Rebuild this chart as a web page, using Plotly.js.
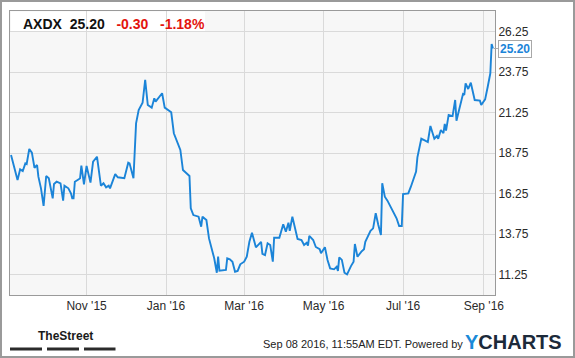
<!DOCTYPE html>
<html>
<head>
<meta charset="utf-8">
<script src="https://cdn.plot.ly/plotly-3.0.1.min.js"></script>
<style>
  html, body { margin: 0; padding: 0; background: #fff; }
  #wrap { position: relative; width: 575px; height: 358px; }
  #chart { width: 575px; height: 358px; }
  #frame { position: absolute; left: 0; top: 0; width: 575px; height: 358px; box-sizing: border-box; border: 2px solid #9a9a9a; pointer-events: none; }
</style>
</head>
<body>
<div id="wrap"><div id="chart"></div><div id="frame"></div></div>
<script>
const ticker = 'AXDX';
const lastPrice = '25.20';
const change = '-0.30';
const changePct = '-1.18%';
const stamp = 'Sep 08 2016, 11:55AM EDT. Powered by';

const dates = [
'2015-09-04','2015-09-09','2015-09-11','2015-09-13','2015-09-15','2015-09-16','2015-09-18','2015-09-20','2015-09-22','2015-09-24',
'2015-09-25','2015-09-27','2015-09-29','2015-10-01','2015-10-03','2015-10-04','2015-10-06','2015-10-07','2015-10-09','2015-10-12',
'2015-10-14','2015-10-15','2015-10-18','2015-10-20','2015-10-21','2015-10-22','2015-10-23','2015-10-26','2015-10-27','2015-10-28',
'2015-10-30','2015-11-01','2015-11-04','2015-11-06','2015-11-09','2015-11-12','2015-11-14','2015-11-16','2015-11-18','2015-11-19',
'2015-11-21','2015-11-23','2015-11-25','2015-11-30','2015-12-03','2015-12-04','2015-12-07','2015-12-09','2015-12-11','2015-12-14',
'2015-12-16','2015-12-18','2015-12-21','2015-12-23','2015-12-24','2015-12-29','2015-12-31','2016-01-05','2016-01-07','2016-01-09',
'2016-01-12','2016-01-14','2016-01-19','2016-01-20','2016-01-22','2016-01-26','2016-01-28','2016-01-29','2016-02-01','2016-02-03',
'2016-02-06','2016-02-07','2016-02-09','2016-02-10','2016-02-11','2016-02-16','2016-02-17','2016-02-19','2016-02-21','2016-02-23',
'2016-02-25','2016-02-27','2016-03-01','2016-03-03','2016-03-05','2016-03-07','2016-03-10','2016-03-14','2016-03-15','2016-03-17',
'2016-03-19','2016-03-21','2016-03-23','2016-03-24','2016-03-28','2016-03-30','2016-03-31','2016-04-02','2016-04-04','2016-04-05',
'2016-04-07','2016-04-11','2016-04-14','2016-04-16','2016-04-18','2016-04-19','2016-04-20','2016-04-23','2016-04-25','2016-04-28',
'2016-04-29','2016-05-02','2016-05-04','2016-05-06','2016-05-09','2016-05-11','2016-05-12','2016-05-13','2016-05-15','2016-05-17',
'2016-05-19','2016-05-22','2016-05-24','2016-05-25','2016-05-27','2016-05-30','2016-06-01','2016-06-02','2016-06-04','2016-06-06',
'2016-06-08','2016-06-10','2016-06-12','2016-06-14','2016-06-15','2016-06-17','2016-06-19','2016-06-22','2016-06-23','2016-06-26',
'2016-06-28','2016-06-30','2016-07-01','2016-07-05','2016-07-07','2016-07-09','2016-07-11','2016-07-12','2016-07-15','2016-07-18',
'2016-07-20','2016-07-22','2016-07-25','2016-07-27','2016-07-28','2016-07-30','2016-08-01','2016-08-02','2016-08-03','2016-08-05',
'2016-08-08','2016-08-10','2016-08-11','2016-08-13','2016-08-16','2016-08-17','2016-08-18','2016-08-20','2016-08-22','2016-08-25',
'2016-08-29','2016-08-30','2016-09-02','2016-09-04','2016-09-06','2016-09-07','2016-09-08'
];

const prices = [
18.63,17.08,17.74,17.64,18.11,18.07,19.00,18.77,17.84,18.01,
17.29,16.57,15.48,17.33,17.19,16.84,15.95,16.84,16.98,16.88,
15.81,16.73,16.57,16.26,15.95,15.95,16.98,17.13,17.19,17.97,
16.82,17.95,16.92,18.21,18.52,16.73,16.88,16.63,16.73,16.57,
16.98,17.45,17.25,17.19,18.15,18.11,17.19,20.58,21.40,21.85,
23.26,21.71,21.55,22.13,21.92,22.44,21.55,21.26,19.97,19.55,
18.94,17.70,17.33,15.34,14.92,14.82,14.20,14.82,14.61,13.48,
12.56,12.25,11.36,12.35,11.48,11.53,12.25,12.19,12.04,11.42,
11.47,11.88,12.04,12.35,13.27,13.83,12.93,13.27,12.52,12.45,
13.18,13.07,12.04,13.52,13.52,14.10,14.35,13.89,14.45,13.95,
14.82,13.44,13.38,13.07,13.21,13.03,13.63,13.38,12.95,12.81,
12.56,12.93,12.15,11.63,11.57,11.73,11.47,12.31,12.15,11.36,
11.26,11.77,12.04,13.13,12.35,12.66,12.81,13.27,13.58,13.95,
14.10,15.03,14.31,13.69,16.88,16.05,15.81,15.34,15.23,14.72,
14.24,14.24,16.22,16.26,16.67,17.08,17.60,18.48,19.63,19.51,
19.43,20.42,19.63,19.80,19.63,20.17,19.97,20.54,20.13,21.10,
21.03,22.02,20.74,21.40,22.39,22.33,23.05,22.70,23.09,22.02,
21.98,21.71,22.06,22.84,23.67,25.48,25.20
];

const yTickVals = [11.25, 13.75, 16.25, 18.75, 21.25, 23.75, 26.25];
const yTickText = ['11.25', '13.75', '16.25', '18.75', '21.25', '23.75', '26.25'];
const xTickVals = ['2015-11-01', '2016-01-01', '2016-03-01', '2016-05-01', '2016-07-01', '2016-09-01'];
const xTickText = ["Nov '15", "Jan '16", "Mar '16", "May '16", "Jul '16", "Sep '16"];

const FONT = 'Liberation Sans, Arial, Helvetica, sans-serif';
const BLUE = '#1b84d8';
const NB = '\u00a0';

const trace = {
  x: dates, y: prices, type: 'scatter', mode: 'lines',
  line: { color: BLUE, width: 1.9 }, hoverinfo: 'skip'
};

const layout = {
  width: 575, height: 358,
  margin: { l: 10, r: 80, t: 11, b: 63, pad: 0 },
  paper_bgcolor: '#ffffff', plot_bgcolor: '#f7f7f7',
  showlegend: false,
  font: { family: FONT, size: 12, color: '#333' },
  xaxis: {
    type: 'date',
    range: ['2015-09-03 05:00', '2016-09-09 14:00'],
    tickvals: xTickVals, ticktext: xTickText,
    showgrid: true, gridcolor: '#dadada', gridwidth: 1,
    showline: true, linecolor: '#9a9a9a', linewidth: 1, mirror: true,
    ticks: '', zeroline: false, fixedrange: true,
    tickfont: { family: FONT, size: 12, color: '#2a2a2a' }
  },
  yaxis: {
    side: 'right',
    range: [9.985, 27.515],
    tickvals: yTickVals, ticktext: yTickText,
    showgrid: true, gridcolor: '#dadada', gridwidth: 1,
    showline: true, linecolor: '#9a9a9a', linewidth: 1, mirror: true,
    ticks: '', zeroline: false, fixedrange: true,
    tickfont: { family: FONT, size: 12, color: '#2a2a2a' }
  },
  shapes: [
    { type: 'rect', xref: 'paper', yref: 'paper', x0: 0.002, x1: 0.402, y0: 0.9296, y1: 0.998,
      fillcolor: '#ffffff', line: { width: 0 }, layer: 'between' },
    { type: 'rect', xref: 'paper', yref: 'paper', x0: 0.0, x1: 0.06598, y0: -0.19542, y1: -0.18486,
      fillcolor: '#2b2b2b', line: { width: 0 } },
    { type: 'rect', xref: 'paper', yref: 'paper', x0: 0.07629, x1: 0.14227, y0: -0.19542, y1: -0.18486,
      fillcolor: '#2b2b2b', line: { width: 0 } },
    { type: 'rect', xref: 'paper', yref: 'paper', x0: 0.15258, x1: 0.21753, y0: -0.19542, y1: -0.18486,
      fillcolor: '#2b2b2b', line: { width: 0 } }
  ],
  annotations: [
    { xref: 'paper', yref: 'paper', x: 0, y: 1, xanchor: 'left', yanchor: 'middle',
      xshift: 11, yshift: -13, showarrow: false,
      font: { family: FONT, size: 14, color: '#111' },
      text: '<b>' + ticker + NB + NB + lastPrice + NB + NB + NB + '</b>' +
            '<span style="color:#e3140e"><b>' + change + NB + NB + NB + changePct + '</b></span>' },
    { xref: 'x', yref: 'y', x: dates[dates.length - 1], y: prices[prices.length - 1],
      xanchor: 'left', yanchor: 'middle', showarrow: true, ax: 5, ay: 0,
      arrowhead: 0, arrowwidth: 1, arrowcolor: '#a8a8a8', standoff: 1,
      text: '<b>' + lastPrice + '</b>', font: { family: FONT, size: 12, color: BLUE },
      bgcolor: '#ffffff', bordercolor: '#a8a8a8', borderwidth: 1, borderpad: 1 },
    { xref: 'paper', yref: 'paper', x: 0.5175, y: -0.17254, xanchor: 'left', yanchor: 'middle',
      showarrow: false, text: stamp, font: { family: FONT, size: 11, color: '#222' } },
    { xref: 'paper', yref: 'paper', x: 0.93402, y: -0.16725, xanchor: 'left', yanchor: 'middle',
      showarrow: false,
      text: '<b><span style="color:#1a8ad8">Y</span><span style="color:#1c2a3a">CHARTS</span></b>',
      font: { family: FONT, size: 20, color: '#1c2a3a' } },
    { xref: 'paper', yref: 'paper', x: 0.05278, y: -0.14261, xanchor: 'left', yanchor: 'middle',
      showarrow: false, text: '<b>TheStreet</b>',
      font: { family: FONT, size: 12, color: '#1a1a1a' } }
  ]
};

Plotly.newPlot('chart', [trace], layout, { staticPlot: true, displayModeBar: false });
</script>
</body>
</html>
